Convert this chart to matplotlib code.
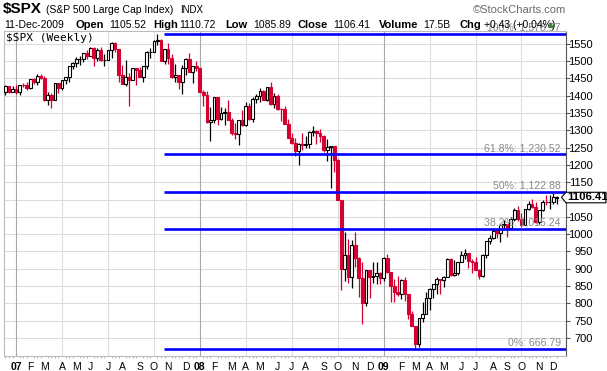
import numpy as np
import pandas as pd
import matplotlib
matplotlib.use('Agg')
import matplotlib.pyplot as plt
from matplotlib.patches import Polygon
from matplotlib.transforms import IdentityTransform

plt.rcParams['font.family'] = ['Liberation Sans', 'DejaVu Sans']

### weekly bars, week ending Friday
dates = pd.date_range('2006-12-15', '2009-12-11', freq='W-FRI')

opens = [1409.8, 1427.1, 1410.8,
         1418.3, 1409.3, 1430.7, 1430.5, 1422.0, 1448.3, 1438.0, 1455.5, 1451.2, 1387.1, 1402.8, 1386.95, 1436.1,
         1420.8, 1443.8, 1452.85, 1484.35, 1494.2, 1505.6, 1505.9, 1522.75, 1515.7, 1536.3, 1507.7, 1532.9, 1502.6,
         1504.0, 1530.4, 1552.5, 1534.1, 1458.95, 1433.06, 1453.64, 1445.94, 1479.37, 1473.96, 1453.55, 1484.25, 1525.75,
         1527.3, 1557.59, 1561.8, 1500.6, 1535.28, 1509.65, 1453.7, 1458.74, 1440.7, 1481.1, 1504.66, 1467.95, 1484.46,
         1478.49, 1411.6, 1401.0, 1325.19, 1330.6, 1395.4, 1331.3, 1350.0, 1353.1, 1330.6, 1293.4, 1288.1, 1329.5,
         1315.2, 1370.4, 1332.8, 1390.3, 1397.8, 1413.9, 1388.3, 1425.35, 1375.9, 1400.4, 1360.7, 1360.0, 1317.9,
         1278.4, 1262.9, 1239.5, 1260.7, 1257.8, 1260.3, 1296.3, 1298.2, 1292.2, 1282.8, 1242.3, 1251.7, 1255.1,
         1213.3, 1099.2, 899.2, 940.5, 876.8, 968.7, 931.0, 873.3, 800.0, 896.2, 876.1, 879.7, 887.9,
         872.8, 931.8, 890.4, 850.1, 832.0, 825.9, 868.6, 826.8, 770.1, 735.1, 683.4, 756.6, 768.5,
         815.9, 842.5, 856.6, 869.6, 866.2, 877.5, 929.2, 882.9, 887.0, 919.1, 940.1, 946.2, 921.2,
         918.9, 896.4, 879.1, 940.4, 979.3, 987.5, 1010.5, 1004.1, 1026.1, 1028.9, 1016.4, 1042.7, 1068.3,
         1044.4, 1025.2, 1071.5, 1087.7, 1079.6, 1036.2, 1069.3, 1093.5, 1091.4, 1091.5, 1105.52]

highs = [1431.6, 1429.0, 1427.7,
         1429.4, 1431.2, 1437.3, 1440.7, 1449.3, 1452.0, 1461.6, 1461.6, 1456.95, 1410.2, 1409.0, 1437.7, 1437.8,
         1444.9, 1453.1, 1484.7, 1498.0, 1510.3, 1513.8, 1522.8, 1532.4, 1540.6, 1540.0, 1538.7, 1540.5, 1519.0,
         1532.4, 1555.1, 1555.9, 1534.3, 1488.3, 1503.9, 1466.3, 1479.4, 1479.4, 1481.5, 1485.0, 1530.0, 1538.7,
         1561.0, 1578.97, 1564.7, 1535.5, 1552.8, 1520.0, 1492.0, 1460.0, 1488.9, 1508.7, 1523.6, 1485.4, 1498.9,
         1479.4, 1416.0, 1413.0, 1368.6, 1396.0, 1396.0, 1368.0, 1364.0, 1388.3, 1335.0, 1321.7, 1330.0, 1359.7,
         1380.9, 1380.0, 1395.9, 1404.6, 1422.7, 1416.0, 1425.5, 1440.2, 1406.3, 1404.0, 1364.0, 1370.6, 1333.9,
         1291.0, 1278.0, 1262.3, 1291.0, 1284.0, 1297.0, 1313.2, 1300.7, 1303.0, 1285.0, 1274.4, 1255.1, 1255.1,
         1215.8, 1099.2, 1006.9, 985.4, 984.4, 1007.5, 933.0, 918.4, 896.2, 896.2, 918.9, 918.9, 890.9,
         934.7, 943.9, 891.0, 871.0, 877.9, 870.75, 875.0, 827.0, 779.0, 735.1, 758.3, 804.5, 832.0,
         845.6, 857.0, 875.6, 871.8, 880.4, 930.2, 930.2, 924.6, 920.0, 951.7, 956.2, 946.3, 928.0,
         935.0, 898.0, 943.96, 979.4, 996.7, 1018.0, 1013.0, 1029.0, 1039.5, 1028.9, 1048.2, 1074.8, 1080.2,
         1061.0, 1071.5, 1096.6, 1101.4, 1094.0, 1071.0, 1097.6, 1113.7, 1112.0, 1119.1, 1110.72]

lows = [1403.0, 1407.0, 1410.4,
        1403.97, 1403.0, 1424.0, 1416.0, 1420.0, 1433.4, 1431.2, 1448.0, 1384.0, 1373.9, 1363.98, 1386.95, 1408.0,
        1416.4, 1435.0, 1440.0, 1476.0, 1482.0, 1488.0, 1498.0, 1505.0, 1514.0, 1487.0, 1501.0, 1500.0, 1484.2,
        1503.3, 1510.0, 1526.0, 1440.0, 1432.8, 1429.0, 1370.6, 1445.9, 1430.0, 1453.5, 1439.0, 1476.0, 1510.0,
        1527.3, 1546.0, 1500.0, 1490.0, 1492.0, 1450.0, 1438.5, 1420.0, 1406.1, 1460.0, 1467.0, 1435.65, 1470.0,
        1411.0, 1370.0, 1320.0, 1270.05, 1322.0, 1316.0, 1330.0, 1315.0, 1330.0, 1286.0, 1273.4, 1256.98, 1312.0,
        1312.0, 1331.0, 1324.0, 1379.0, 1383.0, 1386.0, 1384.0, 1373.0, 1364.0, 1359.0, 1326.0, 1317.9, 1278.0,
        1260.0, 1225.0, 1200.44, 1242.0, 1248.0, 1248.0, 1282.0, 1261.0, 1266.0, 1236.0, 1211.0, 1133.5, 1180.0,
        1099.0, 839.8, 865.8, 859.0, 845.3, 904.0, 818.7, 741.0, 791.0, 815.7, 857.9, 857.0, 857.0,
        866.0, 888.0, 804.3, 804.3, 821.7, 812.0, 808.0, 754.3, 734.5, 666.79, 672.9, 745.0, 768.0,
        779.8, 814.5, 826.8, 826.8, 847.1, 878.9, 878.9, 878.9, 881.5, 923.85, 927.0, 903.0, 888.0,
        896.4, 869.3, 875.3, 930.0, 971.0, 986.0, 990.0, 978.5, 1017.0, 991.0, 1017.0, 1039.0, 1039.0,
        1019.95, 1025.2, 1071.0, 1075.0, 1033.4, 1029.4, 1067.0, 1085.0, 1073.0, 1086.0, 1085.89]

closes = [1427.1, 1410.8, 1418.3,
          1409.7, 1430.7, 1430.5, 1422.2, 1448.4, 1438.1, 1455.5, 1451.2, 1387.2, 1402.8, 1386.95, 1436.1, 1420.9,
          1443.8, 1452.85, 1484.35, 1494.25, 1505.6, 1505.85, 1522.75, 1515.7, 1536.3, 1507.7, 1532.9, 1502.6, 1503.35,
          1530.4, 1552.5, 1534.1, 1458.95, 1433.06, 1453.64, 1445.94, 1479.37, 1473.99, 1453.55, 1484.25, 1525.75, 1526.75,
          1557.59, 1561.8, 1500.63, 1535.28, 1509.65, 1453.7, 1458.74, 1440.7, 1481.14, 1504.66, 1467.95, 1484.46, 1478.49,
          1411.63, 1401.02, 1325.19, 1330.61, 1395.42, 1331.29, 1349.99, 1353.11, 1330.63, 1293.37, 1288.14, 1329.51, 1315.22,
          1370.4, 1332.83, 1390.33, 1397.84, 1413.9, 1388.28, 1425.35, 1375.93, 1400.38, 1360.68, 1360.03, 1317.93, 1278.38,
          1262.9, 1239.49, 1260.68, 1257.76, 1260.31, 1296.32, 1298.2, 1292.2, 1282.83, 1242.31, 1251.7, 1255.08, 1213.27,
          1099.23, 899.22, 940.55, 876.77, 968.75, 930.99, 873.29, 800.03, 896.24, 876.07, 879.73, 887.88, 872.8,
          931.8, 890.35, 850.12, 831.95, 825.88, 868.6, 826.84, 770.05, 735.09, 683.38, 756.55, 768.54, 815.94,
          842.5, 856.56, 869.6, 866.23, 877.52, 929.23, 882.88, 887.0, 919.14, 940.09, 946.21, 921.23, 918.9,
          896.42, 879.13, 940.38, 979.26, 987.48, 1010.48, 1004.09, 1026.13, 1028.93, 1016.4, 1042.73, 1068.3, 1044.38,
          1025.21, 1071.49, 1087.68, 1079.6, 1036.19, 1069.3, 1093.48, 1091.38, 1091.49, 1105.98, 1106.41]

fib_values = [666.79, 1015.24, 1122.88, 1230.52, 1578.97]
fib_labels = ['0%: 666.79', '38.2%: 1,015.24', '50%: 1,122.88', '61.8%: 1,230.52', '100%: 1,578.97']
y_ticks = list(range(700, 1551, 50))
month_names = ['', 'F', 'M', 'A', 'M', 'J', 'J', 'A', 'S', 'O', 'N', 'D']

# header pieces: text, weight, size, x position (px)
header_top = [('\\$SPX', 'bold', 11, 3), ('(S&P 500 Large Cap Index)', 'normal', 7.5, 46),
              ('INDX', 'normal', 7, 180)]
header_line = [('11-Dec-2009', 'normal', 7.5, 4), ('Open', 'bold', 8, 76), ('1105.52', 'normal', 7.5, 109),
               ('High', 'bold', 8, 153), ('1110.72', 'normal', 7.5, 179), ('Low', 'bold', 8, 225),
               ('1085.89', 'normal', 7.5, 253), ('Close', 'bold', 8, 298), ('1106.41', 'normal', 7.5, 333),
               ('Volume', 'bold', 8, 379), ('17.5B', 'normal', 7.5, 423), ('Chg', 'bold', 8, 460),
               ('+0.43 (+0.04%)', 'normal', 7.5, 484)]

RED = '#d50032'
BLUE = '#0000ff'


def plot_chart():
    W, H = 607, 371
    fig = plt.figure(figsize=(W / 100, H / 100), dpi=100)
    L, R, T, B = 4, 566, 31, 356
    ax = fig.add_axes([L / W, 1 - B / H, (R - L) / W, (B - T) / H])
    ax.set_xlim(-0.42, 158.6)
    ax.set_ylim(648, 1586.7)

    o = np.array(opens); h = np.array(highs); l = np.array(lows); c = np.array(closes)
    x = np.arange(len(c))
    prev = np.r_[o[0], c[:-1]]

    # candles: red when close is below last week's close, hollow when close above open
    edge = [RED if c[i] < prev[i] else 'black' for i in x]
    face = ['white' if c[i] >= o[i] else edge[i] for i in x]
    ax.vlines(x, l, h, colors=edge, lw=0.9, zorder=3)
    bottoms = np.minimum(o, c)
    heights = np.maximum(np.abs(c - o), 1.0)
    ax.bar(x, heights, bottom=bottoms, width=0.8, color=face, edgecolor=edge, lw=0.8, zorder=4)

    # grid
    for v in y_ticks:
        ax.axhline(v, color='#dddddd', lw=0.8, zorder=0)
    month_idx = [i for i in range(1, len(dates)) if dates[i].month != dates[i - 1].month]
    for i in month_idx:
        m = dates[i].month
        if m == 1:
            ax.axvline(i, color='#a8a8a8', lw=0.8, zorder=0)
        elif m in (4, 7, 10):
            ax.axvline(i, color='#dddddd', lw=0.8, zorder=0)

    # fibonacci retracement lines
    start = int(np.argmax(h)) + 1.8
    ax.hlines(fib_values, start, 158.6, colors=BLUE, lw=1.9, zorder=5)
    for v, s in zip(fib_values, fib_labels):
        ax.annotate(s, xy=(157.1, v), xytext=(0, 2.2), textcoords='offset points',
                    ha='right', va='baseline', color='#8a8a8a', fontsize=7.6,
                    annotation_clip=False, zorder=6)

    # axes (the 1100 label sits under the last-close marker)
    ax.yaxis.tick_right()
    ax.set_yticks(y_ticks)
    ax.set_yticklabels(['' if v == 1100 else str(v) for v in y_ticks])
    ax.tick_params(axis='y', length=3, width=0.8, color='#555555', pad=16.5, labelsize=8)
    for t in ax.get_yticklabels():
        t.set_horizontalalignment('right')

    labels = []
    for i in month_idx:
        d = dates[i]
        labels.append('%02d' % (d.year % 100) if d.month == 1 else month_names[d.month - 1])
    ax.set_xticks(month_idx)
    ax.set_xticklabels(labels)
    ax.set_xticks(x, minor=True)
    ax.tick_params(axis='x', which='major', length=0, pad=4, labelsize=7.5)
    ax.tick_params(axis='x', which='minor', length=1.5, width=0.6, color='#aaaaaa')
    for t, i in zip(ax.get_xticklabels(), month_idx):
        if dates[i].month == 1:
            t.set_fontweight('bold')

    for s in ['left', 'top', 'bottom']:
        ax.spines[s].set_color('#bbbbbb')
        ax.spines[s].set_linewidth(0.8)
    ax.spines['right'].set_color('#555555')
    ax.spines['right'].set_linewidth(0.8)

    ax.text(0.004, 0.995, '\\$SPX (Weekly)', transform=ax.transAxes, ha='left', va='top',
            fontsize=8, family='DejaVu Sans Mono', zorder=7)

    # header text
    for s, wt, sz, px in header_top:
        fig.text(px / W, 1 - 13 / H, s, fontsize=sz, fontweight=wt, va='baseline')
    fig.text(566 / W, 1 - 13 / H, '\u00a9StockCharts.com', fontsize=8, color='#6a6a6a',
             ha='right', va='baseline')
    for s, wt, sz, px in header_line:
        fig.text(px / W, 1 - 28 / H, s, fontsize=sz, fontweight=wt, va='baseline')
    fig.text(548 / W, 1 - 27 / H, '\u25b2', fontsize=5.5, color='#2e8b2e', va='baseline',
             family='DejaVu Sans')

    # last close marker
    yd = ax.transData.transform((0, closes[-1]))[1]
    pts = [(561.5, yd), (566, yd + 5), (606, yd + 5), (606, yd - 5.5), (566, yd - 5.5)]
    fig.patches.append(Polygon(pts, closed=True, facecolor='white', edgecolor='black', lw=0.8,
                               transform=IdentityTransform(), figure=fig))
    fig.text(567, yd, '%.2f' % closes[-1], transform=IdentityTransform(), fontsize=8.2,
             fontweight='bold', va='center', ha='left')

    fig.savefig('out.png', dpi=100)


plot_chart()
